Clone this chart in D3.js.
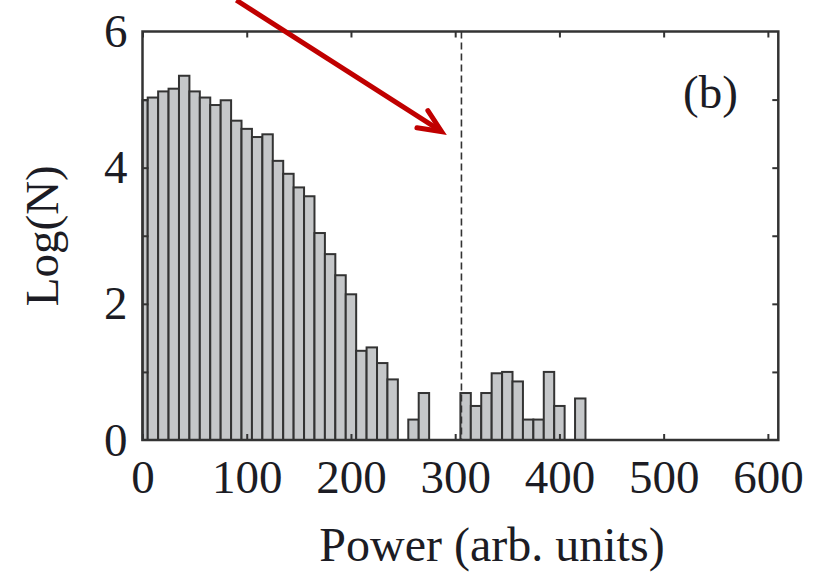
<!DOCTYPE html>
<html>
<head>
<meta charset="utf-8">
<script src="https://cdn.jsdelivr.net/npm/d3@7"></script>
<style>
  body { margin: 0; background: #fff; }
  text { font-family: "Liberation Serif", "Times New Roman", serif; fill: #1c1c24; }
</style>
</head>
<body>
<svg id="chart"></svg>
<script>
// Histogram bins (centre of each 10-unit bin) and Log(N)
const binCenters = [0, 10, 20, 30, 40, 50, 60, 70, 80, 90, 100, 110, 120, 130, 140, 150, 160, 170, 180, 190, 200,
                    210, 220, 230, 240, 260, 270, 310, 320, 330, 340, 350, 360, 370, 380, 390, 400, 420];
const logN       = [4.99, 5.03, 5.12, 5.16, 5.35, 5.12, 5.03, 4.92, 4.99, 4.69, 4.57, 4.45, 4.49, 4.10, 3.91, 3.71, 3.58, 3.04, 2.73, 2.42, 2.14,
                    1.31, 1.36, 1.13, 0.89, 0.30, 0.69, 0.69, 0.50, 0.69, 0.98, 1.00, 0.86, 0.30, 0.30, 1.00, 0.50, 0.61];
const xTicks     = [0, 100, 200, 300, 400, 500, 600];
const yTicks     = [0, 2, 4, 6];
const yMinor     = [1, 2, 3, 4, 5];
const threshold  = 306;             // dashed vertical line
const arrowFrom  = [90, 6.46];      // red arrow, data units
const arrowTo    = [287, 4.53];
const panelLabel = "(b)";

let width      = 823,
    height     = 577,
    plotLeft   = 142.5,
    plotRight  = 778.3,
    plotTop    = 31.5,
    plotBottom = 440,
    binWidth   = 10,
    fontSize   = 47,
    ink        = "#333",
    x          = d3.scaleLinear().domain([0, 610]).range([plotLeft, plotRight]),
    y          = d3.scaleLinear().domain([0, 6]).range([plotBottom, plotTop]),
    svg        = d3.select("#chart").attr("width", width).attr("height", height);

/////////////////////
//      Bars       //
/////////////////////
let bins = binCenters.map((c, i) => ({ x0: Math.max(0, c - binWidth / 2), x1: c + binWidth / 2, v: logN[i] }));

svg.append("g")
  .selectAll("rect")
  .data(bins)
  .enter().append("rect")
  .attr("x", d => x(d.x0))
  .attr("y", d => y(d.v))
  .attr("width", d => x(d.x1) - x(d.x0))
  .attr("height", d => y(0) - y(d.v))
  .style("fill", "#c5c7c9")
  .style("stroke", ink)
  .style("stroke-width", 2);

// threshold line
svg.append("line")
  .attr("x1", x(threshold)).attr("x2", x(threshold))
  .attr("y1", y(6)).attr("y2", y(0))
  .style("stroke", ink)
  .style("stroke-width", 1.6)
  .style("stroke-dasharray", "7,4");

/////////////////////
//      Axes       //
/////////////////////
function styleAxis(g) {
  g.select(".domain").remove();
  g.selectAll(".tick line").style("stroke", ink).style("stroke-width", 2);
  g.selectAll(".tick text")
    .style("font-size", fontSize + "px")
    .style("font-family", "Liberation Serif, serif")
    .style("fill", "#1c1c24");
}

svg.append("g")
  .attr("transform", "translate(0," + plotBottom + ")")
  .call(d3.axisBottom(x).tickValues(xTicks).tickSize(-6).tickPadding(20).tickFormat(d3.format("d")))
  .call(styleAxis);

svg.append("g")
  .attr("transform", "translate(0," + plotTop + ")")
  .call(d3.axisTop(x).tickValues(xTicks).tickSize(-6).tickFormat(""))
  .call(styleAxis);

svg.append("g")
  .attr("transform", "translate(" + plotLeft + ",0)")
  .call(d3.axisLeft(y).tickValues(yMinor).tickSize(-6).tickFormat(""))
  .call(styleAxis);

svg.append("g")
  .attr("transform", "translate(" + plotLeft + ",0)")
  .call(d3.axisLeft(y).tickValues(yTicks).tickSize(0).tickPadding(15).tickFormat(d3.format("d")))
  .call(styleAxis);

svg.append("g")
  .attr("transform", "translate(" + plotRight + ",0)")
  .call(d3.axisRight(y).tickValues(yMinor).tickSize(-6).tickFormat(""))
  .call(styleAxis);

// frame
svg.append("rect")
  .attr("x", plotLeft).attr("y", plotTop)
  .attr("width", plotRight - plotLeft).attr("height", plotBottom - plotTop)
  .style("fill", "none")
  .style("stroke", ink)
  .style("stroke-width", 2.5);

// axis titles
svg.append("text")
  .attr("x", 492).attr("y", 561)
  .attr("text-anchor", "middle")
  .style("font-size", "48px")
  .text("Power (arb. units)");

svg.append("text")
  .attr("transform", "translate(58," + ((plotTop + plotBottom) / 2) + ") rotate(-90)")
  .attr("text-anchor", "middle")
  .style("font-size", fontSize + "px")
  .text("Log(N)");

svg.append("text")
  .attr("x", 683).attr("y", 108)
  .style("font-size", fontSize + "px")
  .text(panelLabel);

/////////////////////
//      Arrow      //
/////////////////////
let tip    = [x(arrowTo[0]), y(arrowTo[1])],
    tail   = [x(arrowFrom[0]), y(arrowFrom[1])],
    ang    = Math.atan2(tail[1] - tip[1], tail[0] - tip[0]),
    wing   = 25,
    spread = 24 * Math.PI / 180,
    red    = "#c00000";

svg.append("line")
  .attr("x1", tail[0]).attr("y1", tail[1])
  .attr("x2", tip[0] + 3 * Math.cos(ang)).attr("y2", tip[1] + 3 * Math.sin(ang))
  .style("stroke", red)
  .style("stroke-width", 5);

svg.append("path")
  .attr("d", d3.line()([
    [tip[0] + wing * Math.cos(ang - spread), tip[1] + wing * Math.sin(ang - spread)],
    tip,
    [tip[0] + wing * Math.cos(ang + spread), tip[1] + wing * Math.sin(ang + spread)]
  ]))
  .style("fill", "none")
  .style("stroke", red)
  .style("stroke-width", 5)
  .style("stroke-linejoin", "miter")
  .style("stroke-linecap", "round");
</script>
</body>
</html>
